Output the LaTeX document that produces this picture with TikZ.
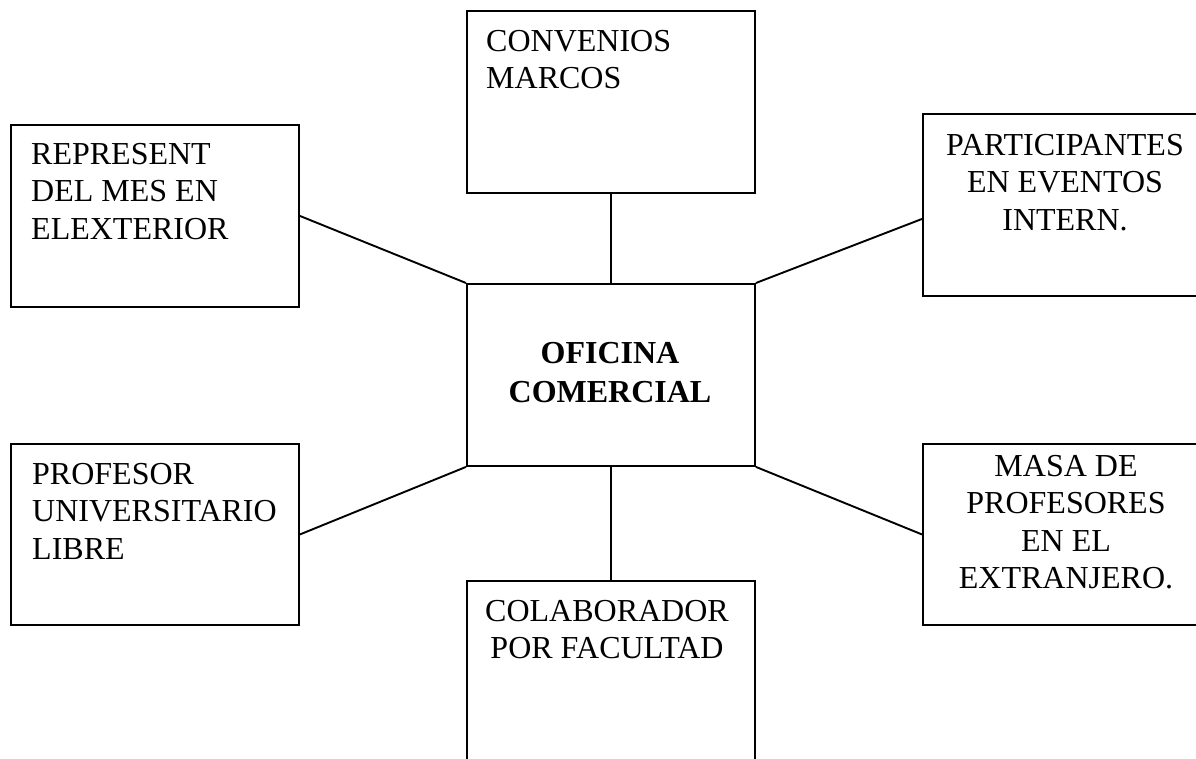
\documentclass[tikz,border=0pt]{standalone}
\usepackage{fontspec}
\setmainfont{Liberation Serif}
\begin{document}
\begin{tikzpicture}[x=1pt,y=-1pt,
  box/.style={draw=black, line width=1.9pt, rectangle, anchor=north west, inner sep=0pt, minimum width=288pt},
  txt/.style={inner sep=0pt, font=\fontsize{32}{37.5}\selectfont},
  conn/.style={draw=black, line width=1.9pt}]
\useasboundingbox (0,0) rectangle (1196,759);
% boxes
\node[box, minimum height=182pt] (conv) at (466,10) {};
\node[box, minimum height=182pt] (rep) at (10,124) {};
\node[box, minimum height=182pt] (part) at (922,113) {};
\node[box, minimum height=182pt] (ofi) at (466,283) {};
\node[box, minimum height=181pt] (prof) at (10,443) {};
\node[box, minimum height=181pt] (masa) at (922,443) {};
\node[box, minimum height=190pt] (colab) at (466,580) {};
% texts
\node[txt, anchor=north west, align=left] (tconv) at (486,25) {\strut CONVENIOS\\MARCOS};
\node[txt, anchor=north west, align=left] (trep) at (31,138) {\strut REPRESENT\\DEL MES EN\\ELEXTERIOR};
\node[txt, anchor=north, align=center] (tpart) at (1065,129) {\strut PARTICIPANTES\\EN EVENTOS\\INTERN.};
\node[txt, anchor=north, align=center, font=\fontsize{32}{39}\selectfont\bfseries] (tofi) at (610,336) {\strut OFICINA\\COMERCIAL};
\node[txt, anchor=north west, align=left] (tprof) at (32,458) {\strut PROFESOR\\UNIVERSITARIO\\LIBRE};
\node[txt, anchor=north, align=center] (tmasa) at (1066,449.75) {\strut MASA DE\\PROFESORES\\EN EL\\EXTRANJERO.};
\node[txt, anchor=north, align=center] (tcolab) at (607,595) {\strut COLABORADOR\\POR FACULTAD};
% connectors
\draw[conn] (conv.south) -- (ofi.north);
\draw[conn] (rep.east) -- (ofi.north west);
\draw[conn] ([yshift=-14pt]part.west) -- (ofi.north east);
\draw[conn] (prof.east) -- (ofi.south west);
\draw[conn] (masa.west) -- (ofi.south east);
\draw[conn] (ofi.south) -- (colab.north);
\end{tikzpicture}
\end{document}
